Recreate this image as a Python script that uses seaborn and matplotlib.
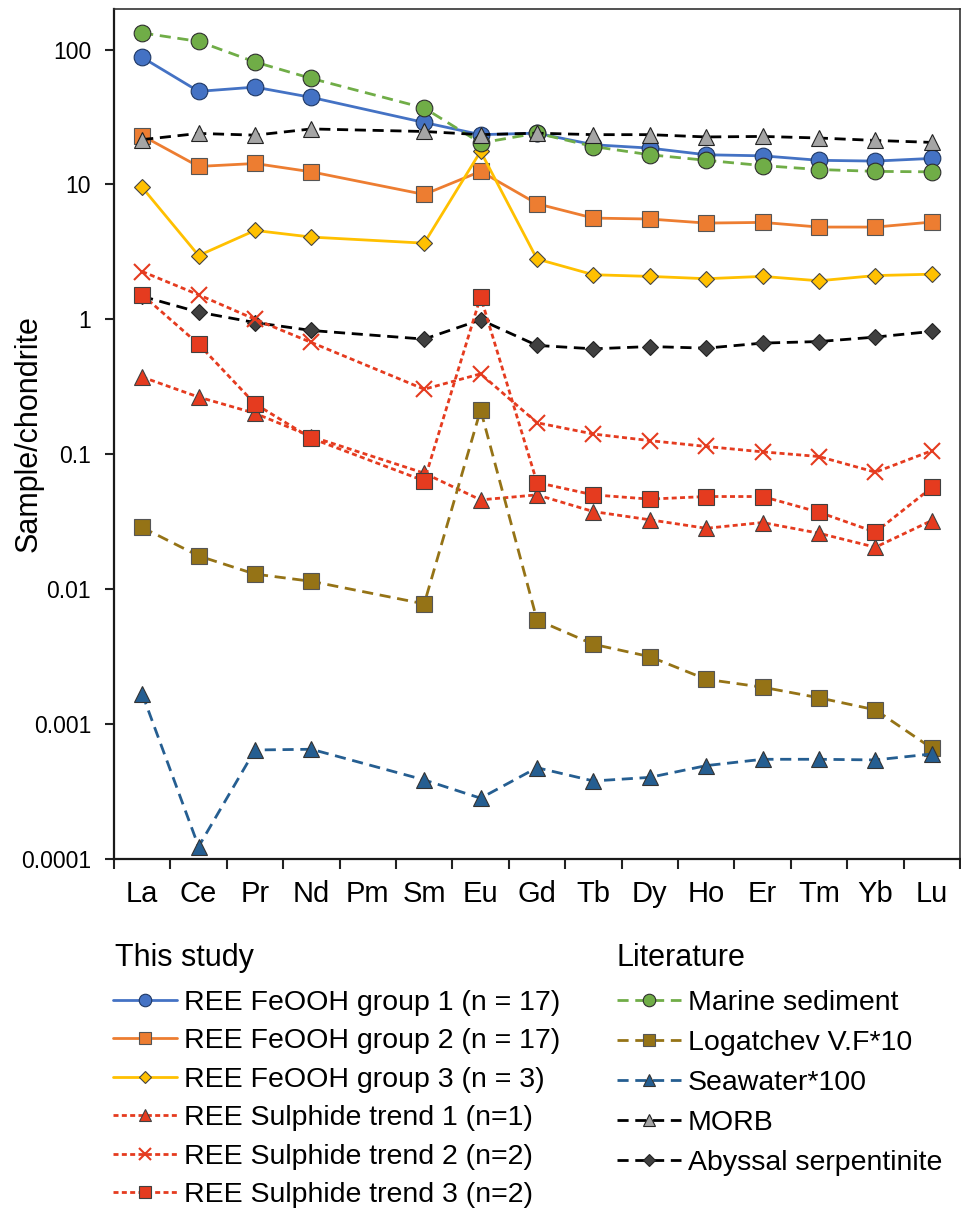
import numpy as np
import pandas as pd
import matplotlib
matplotlib.use("Agg")
import matplotlib.pyplot as plt
from matplotlib.ticker import FixedLocator, FixedFormatter, NullLocator
import seaborn as sns

# Rare earth elements (Pm has no data and is skipped by every series)
elements = ["La", "Ce", "Pr", "Nd", "Pm", "Sm", "Eu", "Gd", "Tb", "Dy", "Ho", "Er", "Tm", "Yb", "Lu"]
measured = ["La", "Ce", "Pr", "Nd", "Sm", "Eu", "Gd", "Tb", "Dy", "Ho", "Er", "Tm", "Yb", "Lu"]

# Chondrite-normalised concentrations, this study
feooh_group1 = [87.5, 49.0, 52.7, 44.2, 28.8, 23.4, 24.0, 19.7, 18.6, 16.6, 16.3, 15.1, 14.9, 15.6]
feooh_group2 = [23.0, 13.6, 14.3, 12.4, 8.43, 12.5, 7.19, 5.63, 5.54, 5.17, 5.23, 4.83, 4.83, 5.26]
feooh_group3 = [9.5, 2.97, 4.56, 4.07, 3.67, 17.6, 2.80, 2.14, 2.08, 2.00, 2.08, 1.93, 2.11, 2.16]
sulphide_trend1 = [0.373, 0.265, 0.201, 0.135, 0.0723, 0.0458, 0.0499, 0.0375, 0.0326, 0.0282, 0.0311, 0.0259, 0.0204, 0.0322]
sulphide_trend2 = [2.26, 1.52, 1.00, 0.673, 0.303, 0.394, 0.171, 0.141, 0.126, 0.114, 0.104, 0.096, 0.0735, 0.106]
sulphide_trend3 = [1.52, 0.654, 0.236, 0.131, 0.0634, 1.47, 0.0616, 0.0499, 0.0464, 0.0485, 0.0485, 0.0371, 0.0264, 0.0566]

# Literature reference compositions
marine_sediment = [132.8, 115.0, 80.9, 61.1, 36.9, 20.3, 24.0, 19.1, 16.6, 15.1, 13.8, 12.9, 12.5, 12.4]
logatchev_vf10 = [0.0286, 0.0176, 0.0129, 0.0114, 0.00776, 0.213, 0.0059, 0.00389, 0.00315, 0.00214, 0.00187, 0.00156, 0.00127, 0.00066]
seawater100 = [0.00167, 0.000123, 0.00064, 0.000648, 0.000384, 0.000281, 0.000473, 0.000377, 0.000401, 0.00049, 0.000546, 0.000546, 0.00054, 0.000598]
morb = [21.5, 23.9, 23.2, 25.8, 24.7, 23.4, 24.0, 23.4, 23.4, 22.5, 22.7, 22.1, 21.2, 20.5]
abyssal_serpentinite = [1.48, 1.13, 0.946, 0.826, 0.713, 0.991, 0.64, 0.604, 0.628, 0.611, 0.666, 0.684, 0.738, 0.813]

y_ticks = [100, 10, 1, 0.1, 0.01, 0.001, 0.0001]
y_tick_labels = ["100", "10", "1", "0.1", "0.01", "0.001", "0.0001"]

sns.set_theme(style="ticks")
plt.rcParams["font.family"] = ["Liberation Sans", "DejaVu Sans"]

fig = plt.figure(figsize=(9.62, 12.11), dpi=100)
W, H = 962, 1211
ax = fig.add_axes([114 / W, 1 - 858.7 / H, (960 - 114) / W, (858.7 - 9) / H])

xpos = np.array([elements.index(e) for e in measured], dtype=float)

red = "#E53B1F"
dash_long = (0, (4.0, 2.4))
dash_short = (0, (1.8, 1.2))

study = [
    ("REE FeOOH group 1 (n = 17)", feooh_group1, dict(color="#4472C4", linestyle="-", marker="o", markersize=12, markerfacecolor="#4472C4", markeredgecolor="#1F3864")),
    ("REE FeOOH group 2 (n = 17)", feooh_group2, dict(color="#ED7D31", linestyle="-", marker="s", markersize=12, markerfacecolor="#ED7D31", markeredgecolor="#555555")),
    ("REE FeOOH group 3 (n = 3)", feooh_group3, dict(color="#FFC000", linestyle="-", marker="D", markersize=8, markerfacecolor="#FFC000", markeredgecolor="#444444")),
    ("REE Sulphide trend 1 (n=1)", sulphide_trend1, dict(color=red, linestyle=dash_short, marker="^", markersize=12, markerfacecolor=red, markeredgecolor="#404040")),
    ("REE Sulphide trend 2 (n=2)", sulphide_trend2, dict(color=red, linestyle=dash_short, marker="x", markersize=11, markeredgecolor=red)),
    ("REE Sulphide trend 3 (n=2)", sulphide_trend3, dict(color=red, linestyle=dash_short, marker="s", markersize=12, markerfacecolor=red, markeredgecolor="#404040")),
]
literature = [
    ("Marine sediment", marine_sediment, dict(color="#70AD47", linestyle=dash_long, marker="o", markersize=12, markerfacecolor="#70AD47", markeredgecolor="#2E2E2E")),
    ("Logatchev V.F*10", logatchev_vf10, dict(color="#957316", linestyle=dash_long, marker="s", markersize=12, markerfacecolor="#957316", markeredgecolor="#555555")),
    ("Seawater*100", seawater100, dict(color="#255E91", linestyle=dash_long, marker="^", markersize=12, markerfacecolor="#255E91", markeredgecolor="#333333")),
    ("MORB", morb, dict(color="black", linestyle=dash_long, marker="^", markersize=12, markerfacecolor="#A5A5A5", markeredgecolor="#222222")),
    ("Abyssal serpentinite", abyssal_serpentinite, dict(color="black", linestyle=dash_long, marker="D", markersize=8, markerfacecolor="#404040", markeredgecolor="#222222")),
]

handles = {}

def draw(label, values, style, z):
    df = pd.DataFrame({"x": xpos, "y": values})
    mew = 1.5 if style.get("marker") == "x" else 0.8
    sns.lineplot(data=df, x="x", y="y", ax=ax, lw=2.0, markeredgewidth=mew,
                 zorder=z, label=label, legend=False, **style)
    handles[label] = ax.lines[-1]

# abyssal serpentinite sits underneath the study data
draw(*literature[4], z=2)
for i, s in enumerate(study):
    draw(*s, z=3 + i)
for i, s in enumerate(literature[:4]):
    draw(*s, z=10 + i)

ax.set_yscale("log")
ax.set_ylim(1e-4, 200)
ax.set_xlim(-0.5, len(elements) - 0.5)

ax.yaxis.set_major_locator(FixedLocator(y_ticks))
ax.yaxis.set_major_formatter(FixedFormatter(y_tick_labels))
ax.yaxis.set_minor_locator(NullLocator())

ax.set_xticks(np.arange(len(elements)))
ax.set_xticklabels(elements)
ax.xaxis.set_minor_locator(FixedLocator(np.arange(-0.5, len(elements), 1.0)))

ax.tick_params(axis="x", which="major", length=0, labelsize=21, pad=15, colors="black")
ax.tick_params(axis="x", which="minor", length=7, width=1.5, direction="out", color="#222222")
ax.tick_params(axis="y", which="major", length=6.5, width=1.5, direction="out", labelsize=16.5, pad=10, color="#222222", labelcolor="black")

for side in ["left", "bottom"]:
    ax.spines[side].set_linewidth(1.6)
    ax.spines[side].set_color("#1a1a1a")
for side in ["top", "right"]:
    ax.spines[side].set_visible(True)
    ax.spines[side].set_linewidth(1.2)
    ax.spines[side].set_color("#333333")

ax.set_xlabel("")
ax.set_ylabel("Sample/chondrite", fontsize=22, color="black")
ax.yaxis.set_label_coords((44 - 114) / (960 - 114), 0.5)

# Two legend blocks, each with its own heading
fig.text(115 / W, 1 - 966 / H, "This study", fontsize=22, color="black", ha="left", va="baseline")
fig.text(617 / W, 1 - 966 / H, "Literature", fontsize=22, color="black", ha="left", va="baseline")

leg_kw = dict(loc="upper left", frameon=False, fontsize=20.5,
              borderpad=0, borderaxespad=0, markerscale=0.75,
              handlelength=2.25, handletextpad=0.24)

leg1 = fig.legend([handles[s[0]] for s in study], [s[0] for s in study],
                  bbox_to_anchor=(113 / W, 1 - 990 / H), labelspacing=0.435, **leg_kw)
leg2 = fig.legend([handles[s[0]] for s in literature], [s[0] for s in literature],
                  bbox_to_anchor=(617 / W, 1 - 990 / H), labelspacing=0.49, **leg_kw)
for leg in (leg1, leg2):
    for t in leg.get_texts():
        t.set_color("black")

fig.savefig("out.png", dpi=100)
